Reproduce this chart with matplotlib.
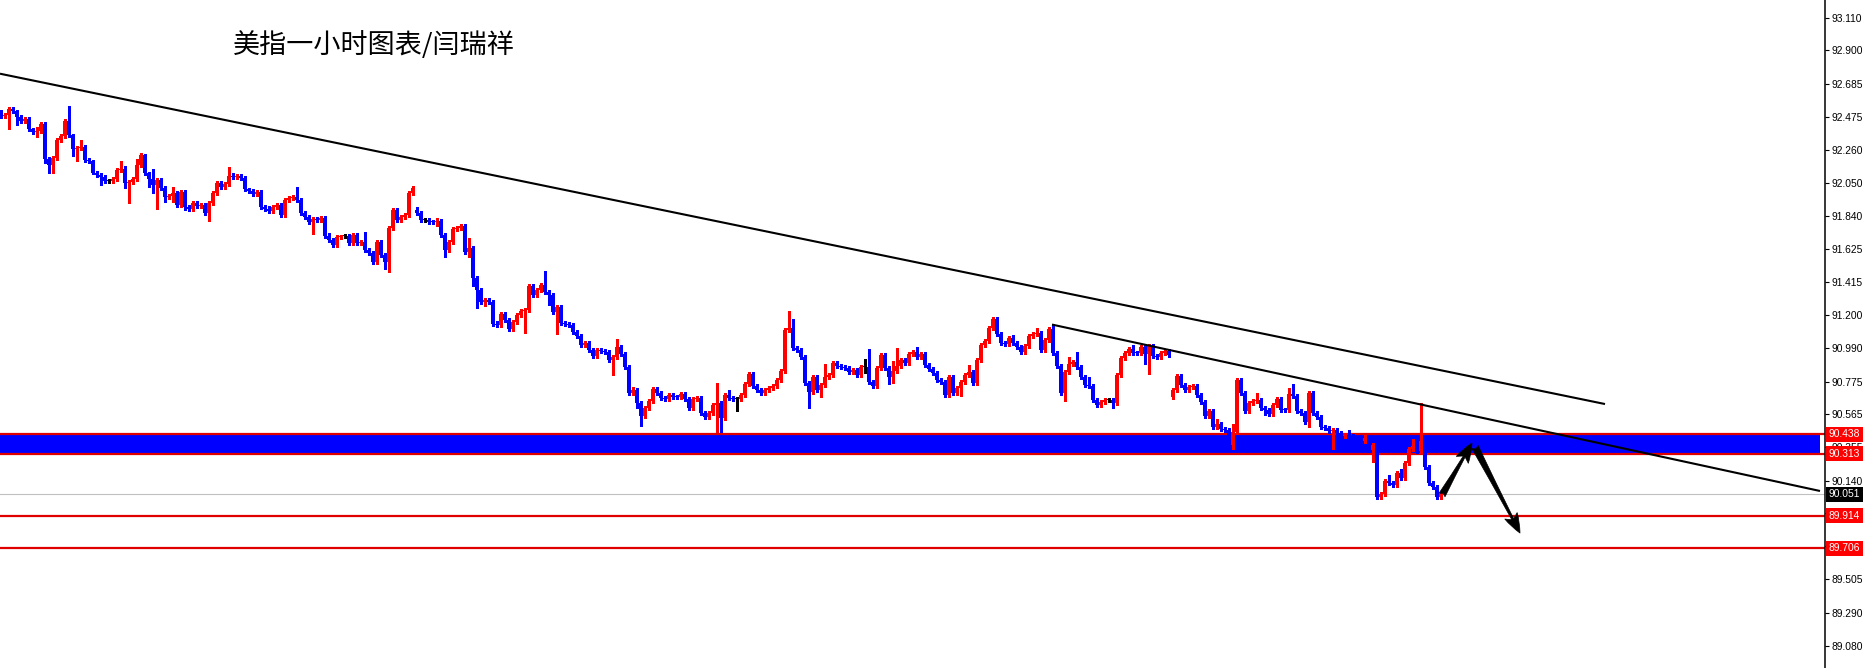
import numpy as np
import matplotlib
matplotlib.use("Agg")
import matplotlib.pyplot as plt
from matplotlib import transforms

plt.rcParams['font.family'] = ['Noto Sans CJK SC', 'DejaVu Sans']

# 数据：美元指数 1 小时 K 线（收盘价，开盘价=前一根收盘价）
title = "美指一小时图表/闫瑞祥"
first_open = 92.499
closes = [
    92.480, 92.486, 92.524, 92.512, 92.473, 92.448, 92.461, 92.396, 92.377, 92.383,
    92.428, 92.204, 92.165, 92.210, 92.325, 92.351, 92.448, 92.358, 92.268, 92.274,
    92.281, 92.197, 92.191, 92.114, 92.101, 92.088, 92.063, 92.063, 92.075, 92.133,
    92.139, 92.050, 92.056, 92.075, 92.165, 92.229, 92.114, 92.075, 92.037, 92.069,
    92.018, 91.960, 91.966, 91.985, 91.908, 91.992, 91.895, 91.883, 91.921, 91.902,
    91.908, 91.857, 91.921, 91.985, 92.050, 92.024, 92.043, 92.094, 92.088, 92.094,
    92.082, 92.011, 91.998, 91.979, 91.992, 91.895, 91.883, 91.870, 91.895, 91.908,
    91.844, 91.940, 91.953, 91.960, 91.940, 91.857, 91.831, 91.799, 91.818, 91.812,
    91.825, 91.709, 91.684, 91.652, 91.703, 91.709, 91.709, 91.664, 91.716, 91.664,
    91.671, 91.620, 91.600, 91.542, 91.671, 91.588, 91.542, 91.761, 91.876, 91.812,
    91.831, 91.844, 91.985, 92.018, 91.857, 91.812, 91.812, 91.799, 91.798, 91.806,
    91.716, 91.620, 91.671, 91.754, 91.761, 91.774, 91.607, 91.632, 91.440, 91.363,
    91.286, 91.299, 91.286, 91.145, 91.138, 91.209, 91.170, 91.113, 91.157, 91.202,
    91.228, 91.234, 91.389, 91.331, 91.363, 91.395, 91.350, 91.331, 91.221, 91.254,
    91.151, 91.145, 91.138, 91.093, 91.068, 91.010, 91.023, 90.978, 90.939, 90.978,
    90.971, 90.965, 90.913, 90.933, 90.997, 90.952, 90.869, 90.702, 90.721, 90.638,
    90.554, 90.605, 90.650, 90.727, 90.702, 90.670, 90.663, 90.689, 90.676, 90.675,
    90.695, 90.663, 90.605, 90.663, 90.670, 90.573, 90.548, 90.573, 90.625, 90.638,
    90.541, 90.689, 90.670, 90.663, 90.663, 90.689, 90.759, 90.824, 90.747, 90.721,
    90.702, 90.721, 90.734, 90.747, 90.785, 90.843, 91.106, 91.119, 90.991, 90.978,
    90.933, 90.766, 90.708, 90.804, 90.721, 90.753, 90.804, 90.817, 90.894, 90.875,
    90.869, 90.862, 90.837, 90.849, 90.817, 90.869, 90.869, 90.772, 90.747, 90.862,
    90.946, 90.862, 90.804, 90.843, 90.875, 90.913, 90.894, 90.952, 90.965, 90.933,
    90.952, 90.881, 90.856, 90.830, 90.785, 90.772, 90.689, 90.804, 90.702, 90.734,
    90.772, 90.817, 90.837, 90.766, 90.913, 91.010, 91.036, 91.119, 91.177, 91.080,
    91.023, 91.016, 91.055, 91.023, 90.997, 90.965, 91.003, 91.068, 91.080, 91.087,
    90.978, 91.042, 91.113, 90.958, 90.875, 90.702, 90.837, 90.888, 90.901, 90.869,
    90.804, 90.753, 90.747, 90.657, 90.625, 90.644, 90.657, 90.657, 90.638, 90.817,
    90.926, 90.958, 90.984, 90.958, 90.957, 90.997, 90.952, 91.003, 90.939, 90.933,
    90.958, 90.971, 90.946, 90.721, 90.811, 90.753, 90.721, 90.740, 90.747, 90.689,
    90.644, 90.554, 90.586, 90.483, 90.503, 90.471, 90.464, 90.368, 90.451, 90.785,
    90.702, 90.586, 90.638, 90.650, 90.657, 90.605, 90.592, 90.567, 90.625, 90.663,
    90.592, 90.591, 90.695, 90.682, 90.586, 90.573, 90.516, 90.702, 90.573, 90.548,
    90.483, 90.477, 90.458, 90.464, 90.445, 90.426, 90.432, 90.425, 90.413, 90.400,
    90.394, 90.413, 90.336, 90.368, 90.034, 90.053, 90.137, 90.124, 90.111, 90.188,
    90.156, 90.252, 90.342, 90.362, 90.330, 90.394, 90.227, 90.124, 90.098, 90.034,
    90.051,
]
# 跳空开盘
gap_opens = {104: 91.876, 293: 90.676}

# 上下影线长度（单位 0.001）
wick_up = [
    19, 13, 13, 13, 6, 13, 13, 13, 6, 26,
    13, 13, 13, 13, 13, 13, 13, 96, 6, 13,
    45, 13, 13, 6, 13, 13, 13, 13, 13, 13,
    51, 19, 13, 13, 38, 13, 6, 6, 64, 13,
    13, 13, 13, 38, 13, 13, 13, 13, 13, 13,
    13, 13, 13, 13, 13, 13, 13, 58, 19, 13,
    13, 13, 6, 13, 13, 13, 13, 19, 13, 13,
    13, 13, 13, 13, 64, 13, 13, 13, 13, 13,
    13, 13, 19, 13, 13, 6, 13, 13, 13, 13,
    13, 64, 13, 13, 13, 13, 13, 13, 13, 13,
    13, 13, 13, 13, 19, 13, 13, 13, 13, 19,
    13, 13, 13, 13, 13, 13, 13, 64, 13, 13,
    13, 13, 13, 13, 19, 13, 13, 13, 13, 13,
    13, 13, 13, 13, 13, 13, 90, 13, 13, 13,
    13, 13, 13, 13, 13, 13, 13, 13, 13, 13,
    13, 13, 13, 13, 51, 13, 13, 13, 19, 13,
    13, 13, 13, 13, 13, 13, 13, 13, 13, 13,
    13, 13, 13, 13, 13, 13, 13, 13, 13, 128,
    13, 13, 32, 13, 13, 13, 13, 13, 13, 13,
    13, 13, 13, 13, 13, 13, 13, 109, 58, 13,
    13, 13, 13, 13, 13, 13, 83, 13, 13, 13,
    13, 13, 13, 13, 13, 13, 51, 116, 13, 13,
    13, 13, 13, 64, 116, 13, 13, 13, 13, 32,
    13, 13, 13, 13, 13, 13, 13, 13, 13, 13,
    13, 13, 45, 13, 13, 13, 13, 13, 13, 13,
    13, 13, 13, 19, 13, 13, 13, 13, 13, 32,
    13, 13, 13, 32, 13, 13, 13, 45, 13, 64,
    13, 13, 51, 13, 13, 13, 13, 13, 13, 13,
    13, 13, 13, 26, 13, 13, 13, 13, 13, 13,
    13, 13, 13, 13, 13, 13, 13, 13, 13, 13,
    13, 13, 13, 13, 32, 13, 13, 13, 51, 13,
    13, 13, 13, 13, 45, 13, 13, 13, 13, 13,
    13, 13, 38, 64, 13, 13, 13, 13, 13, 13,
    13, 13, 13, 13, 13, 13, 13, 32, 13, 13,
    13, 19, 13, 13, 13, 13, 13, 38, 13, 13,
    26, 13, 13, 45, 13, 244, 13, 13, 13, 13,
    13,
]
wick_dn = [
    13, 13, 90, 13, 51, 13, 13, 13, 13, 32,
    13, 26, 51, 51, 13, 13, 13, 13, 45, 77,
    13, 13, 13, 6, 13, 51, 13, 13, 13, 13,
    13, 32, 128, 13, 13, 13, 13, 51, 51, 154,
    13, 32, 13, 38, 13, 13, 19, 13, 13, 13,
    13, 13, 51, 13, 13, 13, 13, 13, 13, 13,
    13, 13, 13, 13, 13, 13, 13, 13, 13, 13,
    13, 13, 13, 13, 13, 13, 13, 13, 77, 13,
    13, 13, 13, 13, 13, 13, 13, 13, 13, 13,
    13, 13, 13, 13, 13, 13, 45, 64, 13, 13,
    13, 13, 13, 13, 13, 13, 13, 13, 13, 26,
    13, 45, 13, 13, 13, 13, 13, 32, 51, 116,
    13, 26, 13, 13, 13, 13, 13, 13, 13, 13,
    13, 141, 13, 13, 13, 13, 13, 64, 13, 141,
    13, 13, 13, 13, 13, 13, 13, 13, 13, 13,
    13, 13, 13, 96, 13, 13, 13, 13, 13, 32,
    64, 13, 13, 13, 13, 13, 13, 13, 13, 13,
    13, 13, 13, 13, 13, 13, 13, 13, 13, 173,
    90, 13, 13, 13, 77, 13, 13, 13, 13, 13,
    13, 13, 13, 13, 13, 13, 13, 13, 13, 13,
    13, 13, 103, 13, 13, 45, 13, 13, 13, 13,
    13, 13, 13, 13, 13, 13, 38, 13, 13, 13,
    13, 13, 45, 38, 13, 13, 13, 13, 13, 13,
    13, 13, 13, 13, 13, 13, 13, 13, 13, 13,
    51, 13, 13, 13, 13, 13, 13, 13, 13, 13,
    13, 13, 13, 13, 13, 13, 13, 13, 13, 13,
    13, 13, 13, 13, 13, 13, 51, 13, 13, 13,
    13, 13, 13, 13, 13, 13, 13, 13, 32, 13,
    13, 13, 13, 13, 13, 13, 64, 128, 13, 13,
    13, 13, 13, 13, 13, 13, 13, 13, 13, 13,
    13, 13, 13, 13, 13, 13, 13, 13, 26, 13,
    13, 13, 13, 13, 13, 13, 32, 13, 13, 13,
    13, 13, 13, 13, 13, 13, 13, 32, 13, 13,
    13, 13, 13, 116, 13, 13, 13, 13, 13, 13,
    13, 13, 13, 77, 13, 13, 13, 13, 13, 13,
    13, 13, 13, 13, 13, 13, 13, 13, 13, 13,
    13,
]

price_ticks = [93.110, 92.900, 92.685, 92.475, 92.260, 92.050, 91.840, 91.625,
               91.415, 91.200, 90.990, 90.775, 90.565, 90.355, 90.140, 89.930,
               89.720, 89.505, 89.290, 89.080]
band_low, band_high = 90.313, 90.438
support_levels = [89.914, 89.706]
last_price = 90.051

# 趋势线与箭头（K 线序号, 价格）
trend_upper = [(-0.25, 92.751), (401.0, 90.631)]
trend_lower = [(262.75, 91.141), (454.75, 90.073)]
arrow_up = [(360.25, 90.047), (367.75, 90.381)]
arrow_down = [(368.5, 90.355), (379.75, 89.803)]

# 整理 OHLC
c = np.array(closes)
o = np.r_[first_open, c[:-1]]
for k, v in gap_opens.items():
    o[k] = v
hi = np.maximum(o, c) + np.array(wick_up) / 1000
lo = np.minimum(o, c) - np.array(wick_dn) / 1000
idx = np.arange(len(c))
colors = np.where(np.isclose(c, o), '#000000', np.where(c > o, '#ff0000', '#0000ff'))

W, H = 1865, 668
fig = plt.figure(figsize=(W / 100, H / 100), dpi=100)
ax = fig.add_axes([0, 0, 1825 / W, 1])
ax.set_xlim(-0.25, 456)
ax.set_ylim(88.937, 93.224)

# 区域和水平线
ax.fill_between([-0.25, 454.75], band_low, band_high, color='#0000ff', lw=0, zorder=1)
ax.axhline(band_high, color='#e00000', lw=1.6, zorder=1.5)
ax.axhline(band_low, color='#e00000', lw=1.6, zorder=1.5)
for lv in support_levels:
    ax.axhline(lv, color='#e00000', lw=1.6, zorder=1.5)
ax.axhline(last_price, color='#c0c0c0', lw=0.8, zorder=1.2)

# K 线
ax.vlines(idx, lo, hi, colors=colors, lw=0.8, zorder=3, antialiased=False)
body_h = np.maximum(np.abs(c - o), 0.0065)
ax.bar(idx, body_h, bottom=np.minimum(o, c), width=0.85, color=colors,
       lw=0, zorder=3, antialiased=False)

# 趋势线
for ln in (trend_upper, trend_lower):
    xs, ys = zip(*ln)
    ax.plot(xs, ys, color='black', lw=1.5, zorder=4, solid_capstyle='butt')

# 箭头
for (s, t) in (arrow_up, arrow_down):
    ax.annotate('', xy=t, xytext=s,
                arrowprops=dict(arrowstyle='fancy,head_length=1.4,head_width=1.0,tail_width=0.5',
                                fc='black', ec='black', lw=0.5, shrinkA=0, shrinkB=0),
                zorder=5)

# 坐标轴
for sp in ('left', 'top', 'bottom'):
    ax.spines[sp].set_visible(False)
ax.spines['right'].set_color('black')
ax.spines['right'].set_linewidth(1.1)
ax.set_xticks([])
ax.yaxis.tick_right()
ax.set_yticks(price_ticks)
ax.set_yticklabels([f"{v:.3f}" for v in price_ticks])
ax.tick_params(axis='y', direction='out', length=3, width=0.8, pad=2,
               labelsize=7.4, labelcolor='black', labelfontfamily='Liberation Sans')

# 右侧价格标签
tr = transforms.blended_transform_factory(fig.transFigure, ax.transData)
for v in [band_high, band_low] + support_levels:
    fig.text(1829 / W, v, f"{v:.3f}", transform=tr, fontsize=7.4, color='white',
             family='Liberation Sans', va='center', ha='left', zorder=10,
             bbox=dict(boxstyle='square,pad=0.25', fc='#ff0000', ec='none'))
fig.text(1829 / W, last_price, f"{last_price:.3f}", transform=tr, fontsize=7.4,
         color='white', family='Liberation Sans', va='center', ha='left', zorder=10,
         bbox=dict(boxstyle='square,pad=0.25', fc='black', ec='none'))

fig.text(233 / W, 1 - 45 / H, title, fontsize=19.5, va='center', ha='left')

fig.savefig('out.png', dpi=100)
